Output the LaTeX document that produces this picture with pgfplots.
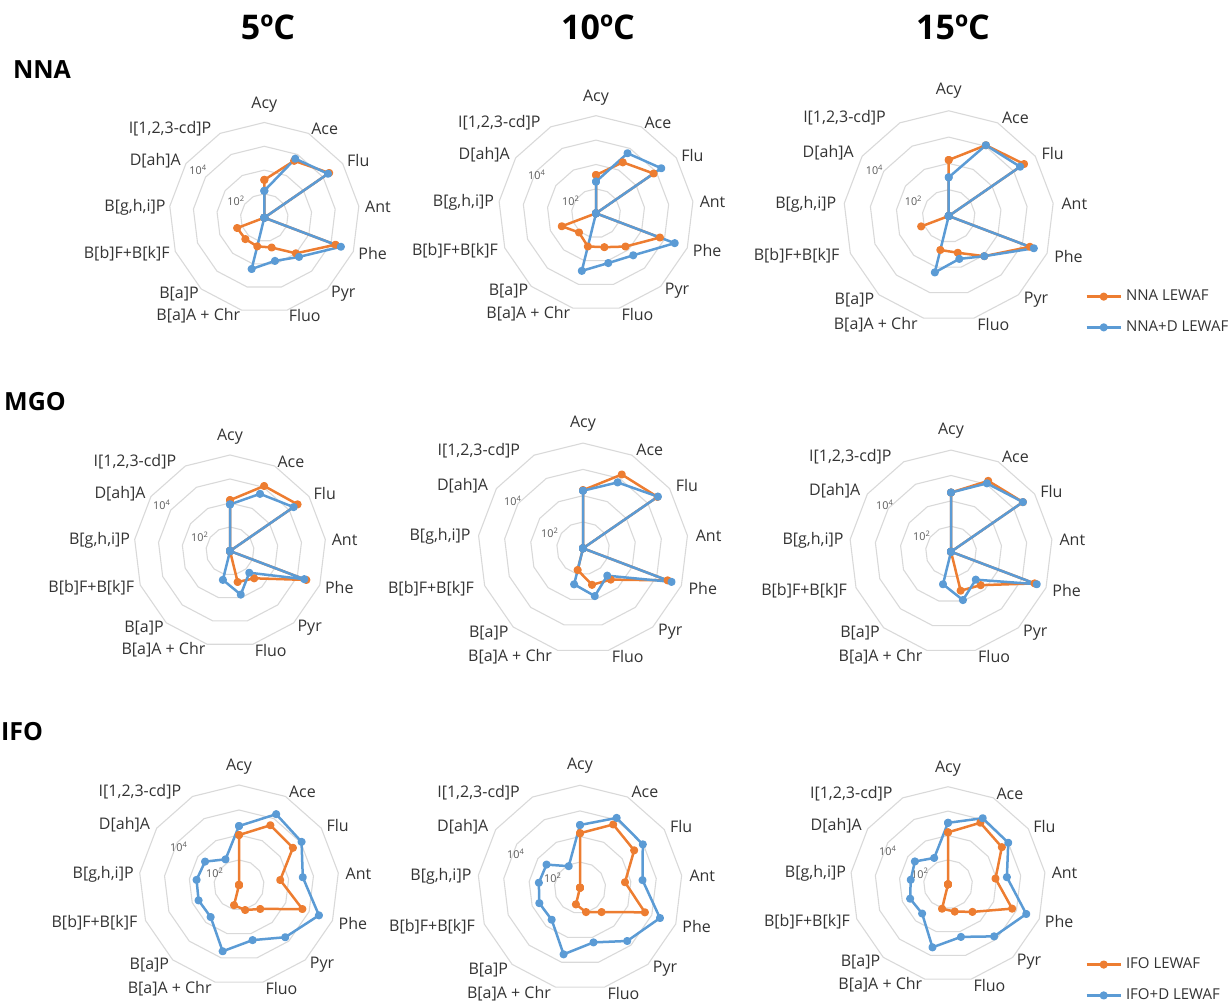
\documentclass[border=0pt]{standalone}
\usepackage{fontspec}
\setmainfont{Open Sans}
\usepackage{pgfplots}
\pgfplotsset{compat=1.18}
\usepackage{pgfplotstable}
\definecolor{cor}{HTML}{ED7D31}
\definecolor{cbl}{HTML}{5B9BD5}
\definecolor{gridc}{HTML}{D9D9D9}
\definecolor{labc}{HTML}{333333}
\definecolor{axtxt}{HTML}{595959}

% log10 of concentration per compound (centre of each radar = 10^1)
% a = NNA, b = MGO, c = IFO ; 1,2,3 = 5,10,15 C ; o = LEWAF, b = +D LEWAF
% rows: 0 Acy,1 Ace,2 Flu,3 Ant,4 Phe,5 Pyr,6 Fluo,7 B[a]A+Chr,8 B[a]P,9 B[b]F+B[k]F,10 B[g,h,i]P,11 D[ah]A,12 I[1,2,3-cd]P, 13 = closes the polygon
\pgfplotstableread{
i  a1o  a1b  a2o  a2b  a3o  a3b  b1o  b1b  b2o  b2b  b3o  b3b  c1o  c1b  c2o  c2b  c3o  c3b
0  2.59 2.13 2.57 2.30 3.13 2.47 3.12 2.94 3.21 3.19 3.33 3.33 3.00 3.36 3.13 3.45 3.13 3.52
1  3.70 3.80 3.36 3.78 4.04 4.04 4.06 3.69 4.17 3.83 4.15 4.04 3.70 4.20 3.79 4.08 3.85 4.06
2  4.31 4.25 3.87 4.25 4.48 4.30 4.42 4.22 4.44 4.46 4.44 4.44 3.62 4.04 3.57 3.98 3.68 4.00
3  1    1    1    1    1    1    1    1    1    1    1    1    2.66 3.57 2.77 3.46 2.96 3.43
4  4.20 4.44 3.80 4.45 4.30 4.46 4.40 4.31 4.44 4.60 4.52 4.61 3.71 4.42 3.71 4.34 3.81 4.43
5  3.00 3.20 2.82 3.30 3.04 3.04 2.52 2.21 2.59 2.39 2.76 2.47 2.28 3.79 2.27 3.78 2.51 3.85
6  2.29 2.87 2.43 3.10 2.44 2.68 2.33 2.87 2.43 2.87 2.58 2.96 2.03 3.27 1.98 3.20 2.15 3.22
7  2.24 3.22 2.40 3.43 2.33 3.21 1    2.24 1.85 2.41 1    2.32 1.83 3.73 1.67 3.68 2.03 3.66
8  2.20 1    2.05 1    nan  1    1    1    1    1    1    1    1    2.71 1    2.67 1    2.60
9  2.22 1    2.50 1    2.12 1    1    1    1    1    1    1    1    2.73 1    2.70 1    2.66
10 1    1    1    1    1    1    1    1    1    1    1    1    1    2.71 1    2.62 1    2.54
11 1    1    1    1    1    1    1    1    1    1    1    1    1    2.65 1    2.59 1    2.65
12 1    1    1    1    1    1    1    1    1    1    1    1    1    2.16 1    1.95 1    2.22
13 2.59 2.13 2.57 2.30 3.13 2.47 3.12 2.94 3.21 3.19 3.33 3.33 3.00 3.36 3.13 3.45 3.13 3.52
}\data

\pgfplotsset{ser/.style={color=#1, line width=1.25pt, line join=round, mark=*, mark size=1.4pt, mark options={solid, fill=#1}}}
\tikzset{lab/.style={font=\fontsize{8}{9}\selectfont, inner sep=0pt, text=labc},
  sml/.style={font=\fontsize{5.4}{6}\selectfont, inner sep=0pt, text=axtxt}}

% radar series: column, cx, cy (pixels from top), ring step (pixels), colour
\newcommand\radar[5]{%
  \addplot[ser=#5] table[x expr={#2+#4*(\thisrow{#1}-1)*cos(90-\thisrow{i}*360/13)},
    y expr={#3-#4*(\thisrow{#1}-1)*sin(90-\thisrow{i}*360/13)}] {\data};}

% grid rings and category labels: cx, cy, step, 10^2 label dx, dy, 10^4 label dx, dy
\newcommand\radgrid[7]{%
\begin{scope}[shift={(#1,#2)}]
\pgfmathsetmacro\f{#3/23.8}
\foreach \j in {1,2,3,4}{\draw[gridc, line width=0.55pt] (-90:{\j*#3}) \foreach \k in {1,...,12}{ -- ({\k*360/13-90}:{\j*#3}) } -- cycle;}
\node[lab] at ({0*\f},{-113*\f}) {Acy};
\node[lab] at ({60.4*\f},{-88.7*\f}) {Ace};
\node[lab] at ({94*\f},{-56.7*\f}) {Flu};
\node[lab] at ({113.7*\f},{-11*\f}) {Ant};
\node[lab] at ({108.4*\f},{36.3*\f}) {Phe};
\node[lab] at ({79*\f},{75.6*\f}) {Pyr};
\node[lab] at ({40.4*\f},{98.3*\f}) {Fluo};
\node[lab] at ({-66*\f},{98.3*\f}) {B[a]A + Chr};
\node[lab] at ({-85.3*\f},{76.3*\f}) {B[a]P};
\node[lab] at ({-137.6*\f},{36.3*\f}) {B[b]F+B[k]F};
\node[lab] at ({-129.3*\f},{-10.4*\f}) {B[g,h,i]P};
\node[lab] at ({-109*\f},{-57*\f}) {D[ah]A};
\node[lab] at ({-94.3*\f},{-88.7*\f}) {I[1,2,3-cd]P};
\node[sml] at (#4,#5) {10\textsuperscript{2}};
\node[sml] at (#6,#7) {10\textsuperscript{4}};
\end{scope}}

\newcommand\legendbox[5]{%
\begin{axis}[at={(#1,#2)}, anchor=west, hide axis, scale only axis, width=1pt, height=1pt,
  xmin=0, xmax=1, ymin=0, ymax=1,
  legend style={at={(0,0.5)}, anchor=west, draw=none, fill=none, inner sep=0pt,
    font=\fontsize{7.5}{8}\selectfont, row sep=4.5pt, text=labc},
  legend cell align=left]
\addlegendimage{ser=cor}\addlegendentry{#3}
\addlegendimage{ser=cbl}\addlegendentry{#4}
\end{axis}}

\begin{document}
\begin{tikzpicture}
\begin{scope}[x=0.5pt, y=-0.5pt, shift={(0pt,500.5pt)}]
\radgrid{264.3}{217.7}{23.8}{-28}{-17}{-66}{-48}
\radgrid{596}{213.3}{24.4}{-25}{-12}{-59}{-38}
\radgrid{948.7}{216}{26.3}{-35}{-15}{-74}{-46}
\radgrid{230}{551}{24.0}{-30}{-14}{-68}{-46}
\radgrid{583}{548.3}{26.3}{-33}{-15}{-70}{-47}
\radgrid{951}{551.7}{25.4}{-29}{-16}{-66}{-47}
\radgrid{239}{885}{25.0}{-24}{-12}{-60}{-38}
\radgrid{580}{887.7}{25.6}{-27}{-10}{-64}{-34}
\radgrid{948}{884.3}{24.4}{-28}{-11}{-60}{-33}
\node[font=\bfseries\fontsize{17}{18}\selectfont, inner sep=0pt] at (268,27) {5ºC};
\node[font=\bfseries\fontsize{17}{18}\selectfont, inner sep=0pt] at (598,27) {10ºC};
\node[font=\bfseries\fontsize{17}{18}\selectfont, inner sep=0pt] at (953,27) {15ºC};
\node[font=\bfseries\fontsize{12.5}{13}\selectfont, inner sep=0pt] at (42,70) {NNA};
\node[font=\bfseries\fontsize{12.5}{13}\selectfont, inner sep=0pt] at (35,402) {MGO};
\node[font=\bfseries\fontsize{12.5}{13}\selectfont, inner sep=0pt] at (22,732) {IFO};
\end{scope}

\begin{axis}[at={(0pt,0pt)}, anchor=south west, scale only axis, width=614.5pt, height=500.5pt,
  xmin=0, xmax=1229, ymin=0, ymax=1001, y dir=reverse, hide axis, clip=false,
  unbounded coords=jump]
\radar{a1o}{264.3}{217.7}{23.8}{cor}
\radar{a1b}{264.3}{217.7}{23.8}{cbl}
\radar{a2o}{596}{213.3}{24.4}{cor}
\radar{a2b}{596}{213.3}{24.4}{cbl}
\radar{a3o}{948.7}{216}{26.3}{cor}
\radar{a3b}{948.7}{216}{26.3}{cbl}
\radar{b1o}{230}{551}{24.0}{cor}
\radar{b1b}{230}{551}{24.0}{cbl}
\radar{b2o}{583}{548.3}{26.3}{cor}
\radar{b2b}{583}{548.3}{26.3}{cbl}
\radar{b3o}{951}{551.7}{25.4}{cor}
\radar{b3b}{951}{551.7}{25.4}{cbl}
\radar{c1o}{239}{885}{25.0}{cor}
\radar{c1b}{239}{885}{25.0}{cbl}
\radar{c2o}{580}{887.7}{25.6}{cor}
\radar{c2b}{580}{887.7}{25.6}{cbl}
\radar{c3o}{948}{884.3}{24.4}{cor}
\radar{c3b}{948}{884.3}{24.4}{cbl}
\end{axis}

\legendbox{542.5pt}{344.5pt}{NNA LEWAF}{NNA+D LEWAF}
\legendbox{542.5pt}{176.75pt}{MGO LEWAF}{MGO+D LEWAF}
\legendbox{542.5pt}{10.5pt}{IFO LEWAF}{IFO+D LEWAF}

\pgfresetboundingbox
\path[use as bounding box] (0pt,0pt) rectangle (614.5pt,500.5pt);
\end{tikzpicture}
\end{document}
